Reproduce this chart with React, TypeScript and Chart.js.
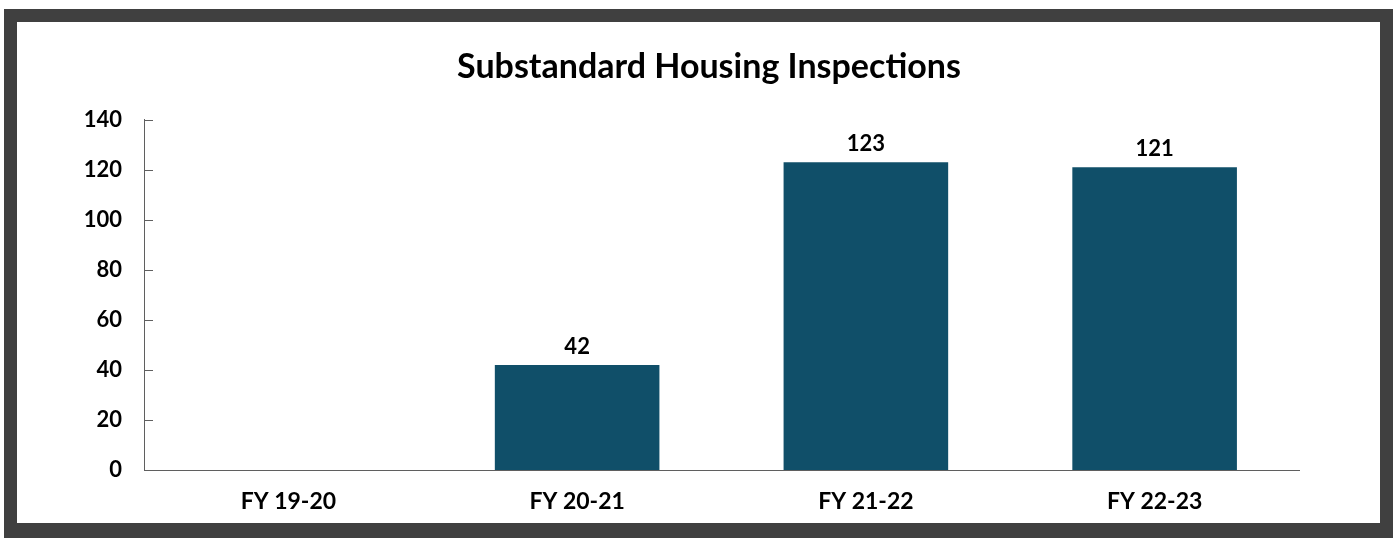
import React, { useEffect, useRef } from "react";
import { Chart, registerables } from "chart.js";

Chart.register(...registerables);

const categories = ["FY 19-20", "FY 20-21", "FY 21-22", "FY 22-23"];
const inspections: (number | null)[] = [null, 42, 123, 121];
const yTicks = [0, 20, 40, 60, 80, 100, 120, 140];
const chartTitle = "Substandard Housing Inspections";

const FONT = "Lato, 'Open Sans', sans-serif";
const AXIS_COLOR = "#5f5f5f";
const BAR_COLOR = "#104F69";

const innerTicks = {
  id: "innerTicks",
  afterDraw(chart: any) {
    const y = chart.scales.y;
    const ctx = chart.ctx;
    ctx.save();
    ctx.strokeStyle = AXIS_COLOR;
    ctx.lineWidth = 1;
    yTicks.forEach((v) => {
      const py = Math.round(y.getPixelForValue(v)) + 0.5;
      ctx.beginPath();
      ctx.moveTo(y.right, py);
      ctx.lineTo(y.right + 9, py);
      ctx.stroke();
    });
    ctx.restore();
  },
};

const valueLabels = {
  id: "valueLabels",
  afterDatasetsDraw(chart: any) {
    const ctx = chart.ctx;
    const meta = chart.getDatasetMeta(0);
    ctx.save();
    ctx.font = `bold 22px ${FONT}`;
    ctx.fillStyle = "#000";
    ctx.textAlign = "center";
    ctx.textBaseline = "alphabetic";
    meta.data.forEach((bar: any, i: number) => {
      const v = inspections[i];
      if (v == null) return;
      ctx.fillText(String(v), bar.x, bar.y - 11);
    });
    ctx.restore();
  },
};

export default function App() {
  const ref = useRef<HTMLCanvasElement>(null);
  useEffect(() => {
    if (!ref.current) return;
    const chart = new Chart(ref.current, {
      type: "bar",
      data: {
        labels: categories,
        datasets: [
          {
            data: inspections,
            backgroundColor: BAR_COLOR,
            borderWidth: 0,
            categoryPercentage: 0.57,
            barPercentage: 1,
            yAxisID: "y",
          },
        ],
      },
      options: {
        animation: false,
        responsive: false,
        maintainAspectRatio: false,
        layout: { padding: { left: 21, right: 0, top: 0, bottom: 0 } },
        plugins: {
          legend: { display: false },
          tooltip: { enabled: false },
          title: {
            display: true,
            text: chartTitle,
            color: "#000",
            font: { family: FONT, size: 34, weight: "bold" },
            padding: { top: 25, bottom: 32 },
          },
        },
        scales: {
          x: {
            grid: { display: false, drawTicks: false },
            border: { display: true, color: AXIS_COLOR, width: 1 },
            ticks: {
              color: "#000",
              font: { family: FONT, size: 23, weight: "bold" },
              padding: 18,
            },
            afterFit(scale: any) {
              scale.height = 53;
            },
          },
          y: {
            min: 0,
            max: 140,
            grid: { display: false, drawTicks: false },
            border: { display: true, color: AXIS_COLOR, width: 1 },
            ticks: {
              stepSize: 20,
              color: "#000",
              font: { family: FONT, size: 22, weight: "bold" },
              padding: 22,
            },
            afterFit(scale: any) {
              scale.width = 106;
            },
          },
          y2: {
            position: "right",
            min: 0,
            max: 140,
            grid: { display: false, drawTicks: false },
            border: { display: false },
            ticks: { display: false },
            afterFit(scale: any) {
              scale.width = 81;
            },
          },
        },
      },
      plugins: [innerTicks, valueLabels],
    });
    return () => chart.destroy();
  }, []);

  return (
    <div
      style={{
        position: "fixed",
        left: 0,
        top: 0,
        width: 1393,
        height: 538,
        background: "#fff",
        overflow: "hidden",
      }}
    >
      <div
        style={{
          position: "absolute",
          left: 4,
          top: 9,
          width: 1363,
          height: 501,
          borderStyle: "solid",
          borderColor: "#404040",
          borderWidth: "13px 13px 15px 13px",
          background: "#fff",
        }}
      >
        <canvas ref={ref} width={1363} height={501} style={{ display: "block" }} />
      </div>
    </div>
  );
}
